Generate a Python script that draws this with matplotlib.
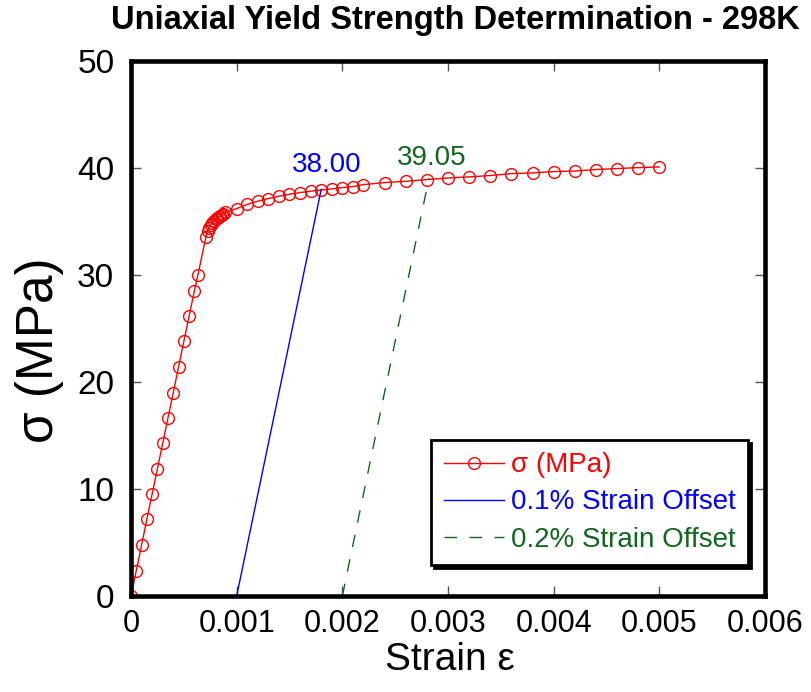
import numpy as np
import matplotlib
matplotlib.use("Agg")
import matplotlib.pyplot as plt

plt.rcParams['font.family'] = ['Liberation Sans', 'DejaVu Sans']

# stress-strain data
strain = [0.0, 0.00005, 0.0001, 0.00015, 0.0002, 0.00025, 0.0003, 0.00035,
          0.0004, 0.00045, 0.0005, 0.00055, 0.0006, 0.000633, 0.00071,
          0.000725, 0.00074, 0.000755, 0.00077, 0.000785, 0.0008, 0.000815,
          0.00083, 0.000845, 0.00086, 0.000875, 0.00089,
          0.001, 0.0011, 0.0012, 0.0013, 0.0014, 0.0015, 0.0016, 0.0017,
          0.0018, 0.0019, 0.002, 0.0021, 0.0022, 0.0024, 0.0026, 0.0028,
          0.003, 0.0032, 0.0034, 0.0036, 0.0038, 0.004, 0.0042, 0.0044,
          0.0046, 0.0048, 0.005]
stress = [0.0, 2.36, 4.74, 7.16, 9.53, 11.89, 14.26, 16.65,
          18.99, 21.42, 23.79, 26.15, 28.52, 30.0, 33.6,
          34.1, 34.4, 34.65, 34.85, 35.05, 35.2, 35.35,
          35.45, 35.55, 35.65, 35.75, 35.85,
          36.21, 36.6, 36.9, 37.15, 37.36, 37.55, 37.71, 37.83,
          37.95, 38.05, 38.17, 38.27, 38.45, 38.64, 38.76, 38.92,
          39.07, 39.17, 39.30, 39.48, 39.54, 39.67, 39.72, 39.86,
          39.95, 40.04, 40.10]

# offset lines (start at offset strain, end at intersection)
off1_strain = [0.001, 0.0018]
off1_stress = [0.0, 38.00]
off2_strain = [0.002, 0.00282]
off2_stress = [0.0, 39.05]

red = '#ff0000'
blue = '#0000ff'
green = '#11661f'

fig = plt.figure(figsize=(8.11, 6.92), dpi=100)
ax = fig.add_axes([0.1615, 0.1387, 0.7818, 0.7731])

ax.plot(strain, stress, color=red, lw=1, marker='o', ms=8.5, mfc='none',
        mec=red, mew=1, label='σ (MPa)')
ax.plot(off1_strain, off1_stress, color=blue, lw=1, label='0.1% Strain Offset')
ax.plot(off2_strain, off2_stress, color=green, lw=1, linestyle=(0, (9, 9)),
        label='0.2% Strain Offset')

ax.annotate('%.2f' % off1_stress[1], (off1_strain[1], off1_stress[1]),
            xytext=(6, 17), textcoords='offset pixels', ha='center',
            va='baseline', color=blue, fontsize=20)
ax.annotate('%.2f' % off2_stress[1], (off2_strain[1], off2_stress[1]),
            xytext=(3, 13), textcoords='offset pixels', ha='center',
            va='baseline', color=green, fontsize=20)

ax.set_xlim(0, 0.006)
ax.set_ylim(0, 50)
ax.set_xticks(np.arange(0, 0.0061, 0.001))
ax.set_xticklabels(['0', '0.001', '0.002', '0.003', '0.004', '0.005', '0.006'])
ax.set_yticks(np.arange(0, 51, 10))
ax.tick_params(axis='both', direction='in', length=7, width=1, color='#555555',
               top=True, right=True)
ax.tick_params(axis='x', labelsize=22, pad=9)
ax.tick_params(axis='y', labelsize=24, pad=12)
for s in ax.spines.values():
    s.set_linewidth(3.3)
    s.set_color('black')

fig.text(0.562, 0.970, 'Uniaxial Yield Strength Determination - 298K',
         ha='center', va='center', fontsize=23.5, fontweight='bold')
fig.text(0.049, 0.494, 'σ (MPa)', rotation=90, ha='center', va='center',
         fontsize=37)
fig.text(0.555, 0.046, 'Strain ε', ha='center', va='center', fontsize=28)

leg = ax.legend(loc='upper right', bbox_to_anchor=(0.973, 0.292),
                borderaxespad=0, fontsize=20, labelcolor='linecolor',
                fancybox=False, shadow={'color': 'black', 'alpha': 1},
                handlelength=2.15, handletextpad=0.25, labelspacing=0.4,
                borderpad=0.45, framealpha=1)
leg.get_frame().set_edgecolor('black')
leg.get_frame().set_linewidth(2)

fig.savefig('out.png', dpi=100)
